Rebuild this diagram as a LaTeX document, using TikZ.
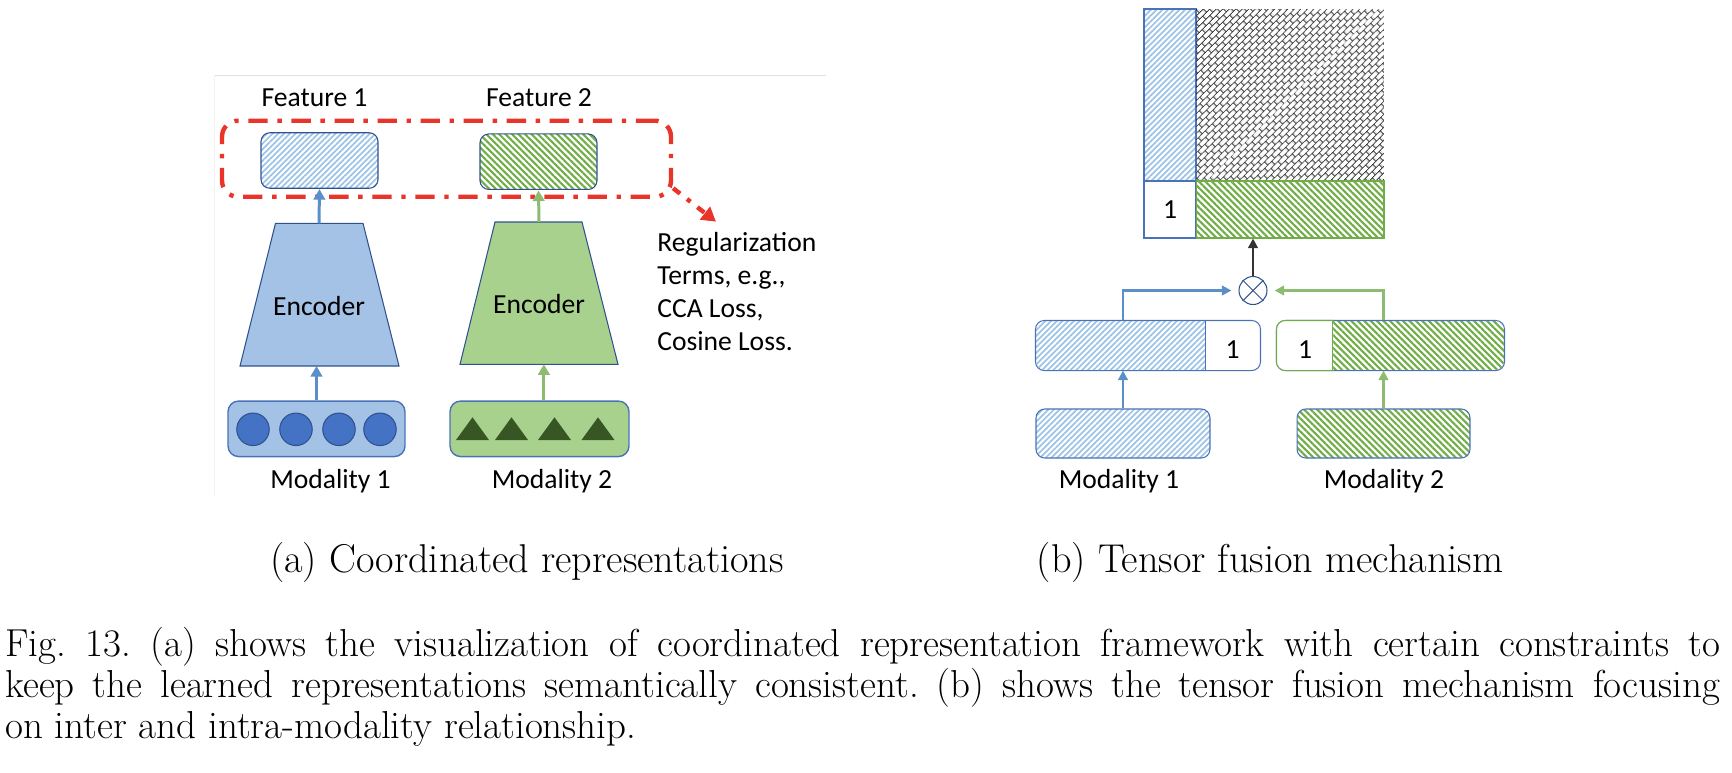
\documentclass[tikz,border=0pt]{standalone}
\usepackage{fontspec}
\newfontfamily\calibri{Carlito}
\usetikzlibrary{arrows.meta,patterns.meta,calc}

\definecolor{encblue}{RGB}{164,194,229}
\definecolor{dotblue}{RGB}{68,114,196}
\definecolor{lineblue}{RGB}{47,82,143}
\definecolor{edgeblue}{RGB}{74,114,184}
\definecolor{stripeblue}{RGB}{157,195,230}
\definecolor{encgreen}{RGB}{169,209,142}
\definecolor{stripegreen}{RGB}{112,173,71}
\definecolor{trigreen}{RGB}{55,86,35}
\definecolor{arrblue}{RGB}{91,143,201}
\definecolor{arrgreen}{RGB}{141,187,111}
\definecolor{regred}{RGB}{233,52,42}
\definecolor{darkarr}{RGB}{51,51,51}

% diagonal brick hatch for the fused tensor
\tikzdeclarepattern{
  name=diagbricks,
  type=uncolored,
  bottom left={(0pt,0pt)},
  top right={(6pt,5.8pt)},
  tile size={(6pt,5.8pt)},
  tile transformation={rotate=45},
  code={
    \draw[line width=0.6pt] (0pt,1.45pt) -- (6pt,1.45pt) (0pt,4.35pt) -- (6pt,4.35pt)
      (1.5pt,1.45pt) -- (1.5pt,4.35pt) (4.5pt,4.35pt) -- (4.5pt,5.8pt) (4.5pt,0pt) -- (4.5pt,1.45pt);
  }
}

\tikzset{
  lbl/.style={font=\calibri\fontsize{15.7}{18.7}\selectfont, inner sep=0pt},
  capfont/.style={font=\fontsize{22.2}{26}\selectfont, inner sep=0pt},
  subcap/.style={font=\fontsize{22.9}{27}\selectfont, inner sep=0pt},
  bluehatch/.style={pattern={Lines[angle=45,distance=2.3pt,line width=1pt]}, pattern color=stripeblue},
  greenhatch/.style={pattern={Lines[angle=-45,distance=2.6pt,line width=1.2pt]}, pattern color=stripegreen},
  featbox/.style={draw=lineblue, line width=0.6pt, rounded corners=5pt, minimum width=2.34cm, minimum height=1.11cm, inner sep=0pt},
  encoder/.style={draw=lineblue, line width=0.6pt},
  modbox/.style={draw=edgeblue, line width=0.8pt, rounded corners=6pt, minimum height=1.11cm, inner sep=0pt},
  regframe/.style={draw=regred, line width=2.5pt, rounded corners=9pt, dash pattern=on 11pt off 5.5pt on 2.5pt off 5.5pt,
    minimum width=8.98cm, minimum height=1.52cm, inner sep=0pt},
  cell/.style={line width=0.6pt, inner sep=0pt},
  fusebox/.style={line width=0.6pt, rounded corners=5pt, minimum height=0.98cm, inner sep=0pt},
  arrb/.style={arrblue, line width=1.7pt, -{Triangle[length=6pt,width=6.5pt]}},
  arrg/.style={arrgreen, line width=1.7pt, -{Triangle[length=6pt,width=6.5pt]}},
  arrbs/.style={arrblue, line width=1.4pt, -{Triangle[length=5.5pt,width=5.5pt]}},
  arrgs/.style={arrgreen, line width=1.4pt, -{Triangle[length=5.5pt,width=5.5pt]}},
  arrk/.style={darkarr, line width=1.6pt, -{Triangle[length=5.5pt,width=5.5pt]}}
}

\begin{document}
\frenchspacing
\begin{tikzpicture}[x=0.02cm, y=-0.02cm]
\useasboundingbox (0,0) rectangle (1732,772);

%%%%% (a) COORDINATED %%%%%
\draw[gray!25, line width=0.5pt] (214,75) -- (826,75);
\draw[gray!10, line width=0.5pt] (214,75) -- (214,496);

\node[featbox, bluehatch] (feat1) at (319.5,160.5) {};
\node[featbox, greenhatch] (feat2) at (538.5,161.7) {};
\node[lbl, anchor=base] at (314.5,106.7) {Feature 1};
\node[lbl, anchor=base] at (539,106.7) {Feature 2};

\node[regframe] (reg) at (446.5,158.7) {};
\coordinate (regtip) at (716,221.7);
\draw[regred, line width=2.5pt, dash pattern=on 5pt off 5pt on 2.5pt off 5pt, -{Triangle[length=8pt,width=9pt]}]
  ([yshift=-16.8pt]reg.east) -- (regtip);
\node[lbl, anchor=north west, align=left] at (657,232.3) {Regularization\\Terms, e.g.,\\CCA Loss,\\Cosine Loss.};

% encoders
\draw[encoder, fill=encblue] (240,366) -- (275.5,223.3) -- (363,223.3) -- (399,366) -- cycle;
\draw[encoder, fill=encgreen] (460,364.3) -- (495,222) -- (582,222) -- (618,364.3) -- cycle;
\coordinate (enc1top) at (319,223.3);
\coordinate (enc1bot) at (319,366);
\coordinate (enc2top) at (539,222);
\coordinate (enc2bot) at (539,364.3);
\node[lbl, anchor=base] at (319,315) {Encoder};
\node[lbl, anchor=base] at (539,313.3) {Encoder};

\node[modbox, fill=encblue, minimum width=3.54cm] (mod1) at (316.5,428.8) {};
\node[modbox, fill=encgreen, minimum width=3.58cm] (mod2) at (539.5,428.8) {};
\foreach \cx in {253,296,339,380}
  \draw[fill=dotblue, draw=lineblue, line width=0.6pt] (\cx,429.3) circle [radius=0.325cm];
\foreach \tx in {472.5,511.5,554.5,598}
  \fill[trigreen] (\tx-16.5,440) -- (\tx,417.3) -- (\tx+16.5,440) -- cycle;
\node[lbl, anchor=base] at (330.5,488.3) {Modality 1};
\node[lbl, anchor=base] at (552,488.3) {Modality 2};

\draw[arrb] (enc1top) -- (feat1.south);
\draw[arrb] (mod1.north) -- (mod1.north |- enc1bot);
\draw[arrg] (enc2top) -- (feat2.south);
\coordinate (m2top) at ([xshift=2.5pt]mod2.north);
\draw[arrg] (m2top) -- (m2top |- enc2bot);

%%%%% (b) TENSOR FUSION %%%%%
\node[cell, bluehatch, draw=edgeblue, minimum width=1.04cm, minimum height=3.44cm] (tcol) at (1170,95) {};
\node[cell, pattern=diagbricks, pattern color=black!80,
  minimum width=3.76cm, minimum height=3.44cm] (tcross) at (1290,95) {};
\node[cell, lbl, draw=edgeblue, fill=white, minimum width=1.04cm, minimum height=1.14cm] (tone) at (1170,209.5) {1};
\node[cell, greenhatch, draw=stripegreen, minimum width=3.76cm, minimum height=1.14cm] (tgreen) at (1290,209.5) {};

\node[circle, draw=lineblue, line width=0.6pt, minimum size=0.56cm, inner sep=0pt] (ot) at (1253,290.5) {};
\draw[lineblue, line width=0.6pt] (ot.north east) -- (ot.south west) (ot.north west) -- (ot.south east);
\draw[arrk] (ot.north) -- (ot.north |- tgreen.south);

% fused modality 1
\node[fusebox, bluehatch, minimum width=4.48cm] (fb1) at (1148,345.5) {};
\begin{scope}
  \clip (1205,300) rectangle (1270,390);
  \fill[white, rounded corners=5pt] (fb1.north west) rectangle (fb1.south east);
\end{scope}
\draw[edgeblue, line width=0.6pt, rounded corners=5pt] (fb1.north west) rectangle (fb1.south east);
\draw[edgeblue, line width=0.6pt] ([xshift=-31.2pt]fb1.north east) -- ([xshift=-31.2pt]fb1.south east);
\node[lbl] at (1232.5,349.5) {1};

% fused modality 2
\node[fusebox, greenhatch, minimum width=4.54cm] (fb2) at (1390.5,345.5) {};
\draw[edgeblue, line width=0.6pt, rounded corners=5pt] (fb2.north west) rectangle (fb2.south east);
\begin{scope}
  \clip (1270,300) rectangle (1333,390);
  \fill[white, rounded corners=5pt] (fb2.north west) rectangle (fb2.south east);
  \draw[stripegreen, line width=0.6pt, rounded corners=5pt] (fb2.north west) rectangle (fb2.south east);
\end{scope}
\draw[stripegreen, line width=0.6pt] ([xshift=31.7pt]fb2.north west) -- ([xshift=31.7pt]fb2.south west);
\node[lbl] at (1305,349.5) {1};

\node[fusebox, bluehatch, draw=edgeblue, minimum width=3.48cm] (m1) at (1123,433.5) {};
\node[fusebox, greenhatch, draw=edgeblue, minimum width=3.46cm] (m2) at (1383.5,433.5) {};
\node[lbl, anchor=base] at (1119,488) {Modality 1};
\node[lbl, anchor=base] at (1384,488) {Modality 2};

\draw[arrbs] (m1.north) -- (m1.north |- fb1.south);
\draw[arrgs] (m2.north) -- (m2.north |- fb2.south);
\draw[arrbs, shorten >=4pt] (m1.north |- fb1.north) |- (ot.west);
\draw[arrgs, shorten >=4pt] (m2.north |- fb2.north) |- (ot.east);

%%%%% CAPTIONS %%%%%
\node[subcap, anchor=base] at (527,572) {(a) Coordinated representations};
\node[subcap, anchor=base] at (1270,572) {(b) Tensor fusion mechanism};
\node[capfont, anchor=base west] at (5,656) {\makebox[976pt][s]{Fig. 13. (a) shows the visualization of coordinated representation framework with certain constraints to}};
\node[capfont, anchor=base west] at (5,697) {\makebox[976pt][s]{keep the learned representations semantically consistent. (b) shows the tensor fusion mechanism focusing}};
\node[capfont, anchor=base west] at (5,738) {on inter and intra-modality relationship.};
\end{tikzpicture}
\end{document}
